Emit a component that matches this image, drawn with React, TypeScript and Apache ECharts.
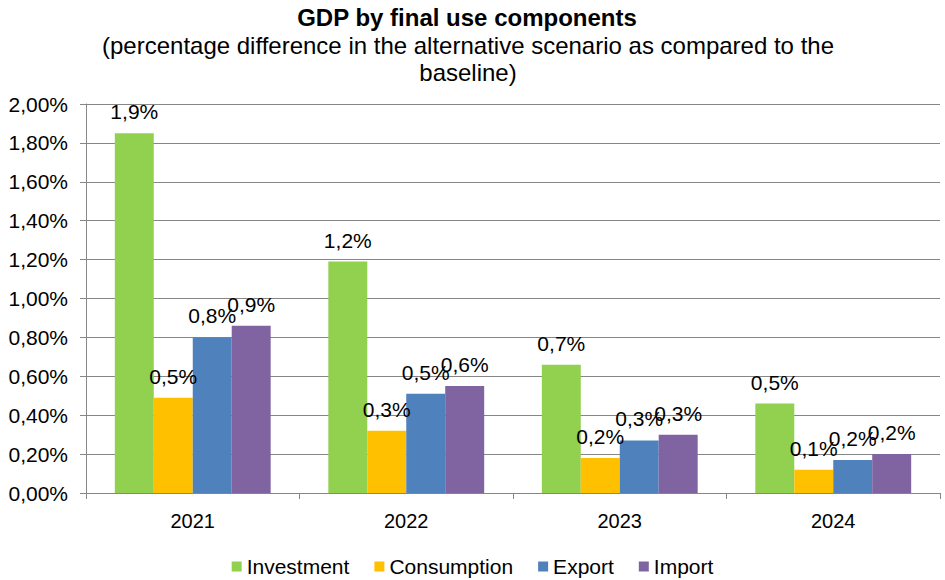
import React, { useEffect, useRef } from "react";
import * as echarts from "echarts";

const categories = ["2021", "2022", "2023", "2024"];
const investment = [1.85, 1.19, 0.66, 0.46];
const consumption = [0.49, 0.32, 0.18, 0.12];
const exportVals = [0.8, 0.51, 0.27, 0.17];
const importVals = [0.86, 0.55, 0.3, 0.2];
const seriesNames = ["Investment", "Consumption", "Export", "Import"];
const seriesColors = ["#92D050", "#FFC000", "#4F81BD", "#8064A2"];
const titleText = "GDP by final use components";
const subtitleLines = [
  "(percentage difference in the alternative scenario as compared to the",
  "baseline)",
];

const FONT = "'Liberation Sans', Arial, sans-serif";

export default function App() {
  const ref = useRef<HTMLDivElement>(null);
  useEffect(() => {
    if (!ref.current) return;
    const chart = echarts.init(ref.current, undefined, { renderer: "svg" });
    const datasets = [investment, consumption, exportVals, importVals];
    chart.setOption({
      animation: false,
      backgroundColor: "#ffffff",
      textStyle: { fontFamily: FONT, color: "#000" },
      graphic: [
        {
          type: "text",
          x: 467,
          y: 5,
          style: {
            text: titleText,
            fontFamily: FONT,
            fontSize: 24,
            fontWeight: "bold",
            fill: "#000",
            textAlign: "center",
          },
        },
        {
          type: "text",
          x: 468,
          y: 32,
          style: {
            text: subtitleLines.join("\n"),
            fontFamily: FONT,
            fontSize: 24,
            lineHeight: 27,
            fill: "#000",
            textAlign: "center",
          },
        },
      ],
      grid: { left: 86, right: 5, top: 104, bottom: 87, containLabel: false },
      legend: {
        top: 551,
        left: "center",
        icon: "rect",
        itemWidth: 10,
        itemHeight: 10,
        itemGap: 25,
        itemTextGap: 6,
        textStyle: { fontFamily: FONT, fontSize: 21, color: "#000" },
        data: seriesNames,
      },
      xAxis: {
        type: "category",
        data: categories,
        axisLine: { lineStyle: { color: "#868686", width: 1 } },
        axisTick: { show: true, alignWithLabel: false, length: 6, lineStyle: { color: "#868686" } },
        axisLabel: { fontFamily: FONT, fontSize: 20, color: "#000", margin: 18 },
      },
      yAxis: {
        type: "value",
        min: 0,
        max: 2,
        interval: 0.2,
        axisLine: { show: true, lineStyle: { color: "#868686", width: 1 } },
        axisTick: { show: true, length: 6, lineStyle: { color: "#868686" } },
        splitLine: { lineStyle: { color: "#868686", width: 1 } },
        axisLabel: {
          fontFamily: FONT,
          fontSize: 21,
          color: "#000",
          margin: 18,
          formatter: (v: number) => v.toFixed(2).replace(".", ",") + "%",
        },
      },
      series: seriesNames.map((name, i) => ({
        name,
        type: "bar",
        data: datasets[i],
        barGap: "0%",
        barCategoryGap: "27%",
        itemStyle: { color: seriesColors[i] },
        label: {
          show: true,
          position: "top",
          distance: 11,
          fontFamily: FONT,
          fontSize: 21,
          color: "#000",
          formatter: (p: any) => p.value.toFixed(1).replace(".", ",") + "%",
        },
      })),
    });
    return () => chart.dispose();
  }, []);
  return (
    <div
      ref={ref}
      style={{ position: "absolute", left: 0, top: 0, width: 945, height: 580 }}
    />
  );
}
